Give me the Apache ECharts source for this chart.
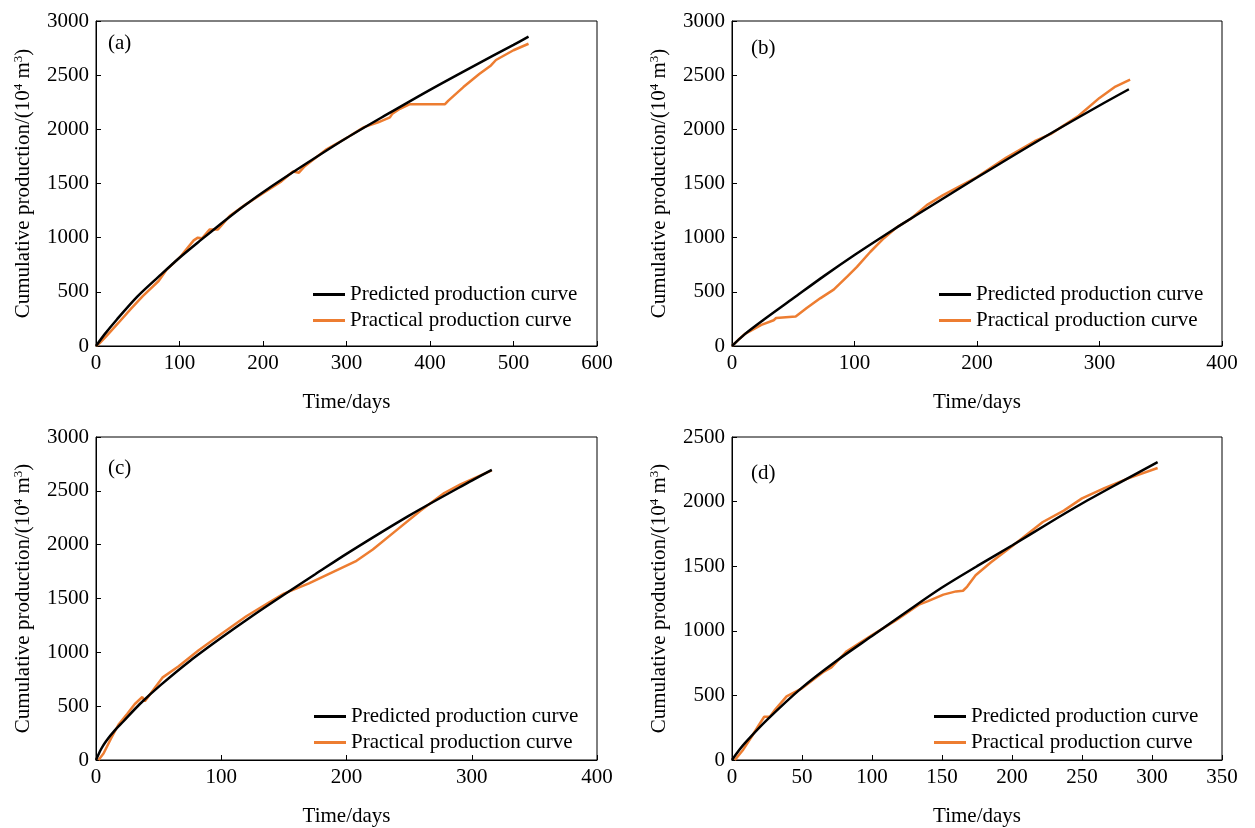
<!DOCTYPE html>
<html>
<head>
<meta charset="utf-8">
<script src="https://cdn.jsdelivr.net/npm/echarts@6/dist/echarts.min.js"></script>
<style>
  html, body { margin: 0; padding: 0; background: #fff; }
  #chart { width: 1255px; height: 828px; }
</style>
</head>
<body>
<div id="chart"></div>
<script>
// (a)
const aPredDays = [0, 10, 25, 50, 75, 100, 125, 150, 175, 200, 250, 300, 350, 400, 450, 500, 518];
const aPredVals = [0, 105, 245, 460, 640, 815, 975, 1130, 1280, 1420, 1675, 1920, 2145, 2365, 2575, 2780, 2855];
const aPracDays = [0, 5, 13, 27, 42, 56, 75, 84, 100, 117, 122, 127, 136, 146, 150, 160, 179, 200, 222, 236, 243, 250, 275, 300, 321, 338, 352, 355, 364, 376, 418, 422, 440, 459, 473, 479, 500, 518];
const aPracVals = [0, 30, 95, 215, 345, 460, 600, 700, 815, 975, 1000, 995, 1075, 1075, 1110, 1200, 1305, 1410, 1520, 1610, 1600, 1660, 1810, 1920, 2020, 2065, 2110, 2145, 2190, 2232, 2232, 2265, 2390, 2510, 2590, 2640, 2730, 2790];
// (b)
const bPredDays = [0, 10, 25, 50, 75, 100, 125, 150, 175, 200, 250, 300, 324];
const bPredVals = [0, 105, 235, 440, 645, 840, 1025, 1205, 1380, 1555, 1895, 2220, 2370];
const bPracDays = [0, 5, 11, 24, 34, 36, 37, 52, 61, 72, 83, 94, 102, 113, 124, 135, 146, 159, 172, 185, 200, 224, 247, 260, 270, 283, 300, 313, 325];
const bPracVals = [0, 55, 115, 195, 238, 258, 272, 272, 350, 440, 520, 640, 730, 870, 995, 1100, 1175, 1300, 1390, 1470, 1560, 1740, 1890, 1955, 2030, 2125, 2290, 2395, 2458];
// (c)
const cPredDays = [0, 4, 8, 15, 22, 35, 52, 75, 100, 125, 150, 175, 200, 250, 300, 316];
const cPredVals = [0, 100, 175, 275, 360, 520, 700, 920, 1135, 1340, 1535, 1725, 1915, 2270, 2595, 2695];
const cPracDays = [2, 6, 12, 18, 25, 31, 37, 39, 53, 66, 82, 100, 120, 139, 150, 170, 189, 208, 221, 240, 259, 278, 291, 316];
const cPracVals = [0, 60, 200, 330, 430, 520, 585, 545, 765, 870, 1020, 1170, 1335, 1470, 1545, 1640, 1745, 1850, 1955, 2135, 2315, 2480, 2560, 2690];
// (d)
const dPredDays = [0, 5, 10, 25, 50, 75, 100, 125, 150, 175, 200, 225, 250, 275, 304];
const dPredVals = [0, 75, 140, 310, 560, 770, 960, 1150, 1335, 1500, 1660, 1825, 1985, 2135, 2305];
const dPracDays = [2, 8, 14, 19, 23, 27, 31, 39, 50, 65, 71, 82, 100, 117, 134, 140, 151, 160, 165, 168, 174, 185, 200, 222, 237, 250, 266, 283, 304];
const dPracVals = [0, 80, 180, 267, 335, 335, 392, 492, 555, 680, 717, 842, 967, 1080, 1205, 1230, 1280, 1305, 1310, 1342, 1430, 1530, 1655, 1842, 1930, 2025, 2105, 2180, 2260];

const xMax = [600, 400, 400, 350];
const xStep = [100, 100, 100, 50];
const yMax = [3000, 3000, 3000, 2500];
const panelTags = ['(a)', '(b)', '(c)', '(d)'];

const FONT = 'Liberation Serif';
const FS = 21;
const PRED = 'Predicted production curve';
const PRAC = 'Practical production curve';

const pairs = (xs, ys) => xs.map((x, i) => [x, ys[i]]);
const predData = [pairs(aPredDays, aPredVals), pairs(bPredDays, bPredVals), pairs(cPredDays, cPredVals), pairs(dPredDays, dPredVals)];
const pracData = [pairs(aPracDays, aPracVals), pairs(bPracDays, bPracVals), pairs(cPracDays, cPracVals), pairs(dPracDays, dPracVals)];

// grid boxes in px
const boxes = [
  { left: 96, top: 21, width: 501, height: 325 },
  { left: 732, top: 21, width: 490, height: 325 },
  { left: 96, top: 437, width: 501, height: 333 },
  { left: 732, top: 437, width: 490, height: 333 }
];
const legendPos = [
  { left: 308, top: 279 },
  { left: 934, top: 279 },
  { left: 309, top: 701 },
  { left: 929, top: 701 }
];
const tagPos = [
  { left: 108, top: 33 },
  { left: 751, top: 38 },
  { left: 108, top: 458 },
  { left: 751, top: 463 }
];

const plain = v => String(v);

const grid = [], xAxis = [], yAxis = [], series = [], legend = [], title = [];
for (let i = 0; i < 4; i++) {
  grid.push(Object.assign({ show: true, borderColor: '#000', borderWidth: 1, backgroundColor: 'transparent' }, boxes[i]));
  xAxis.push({
    type: 'value', gridIndex: i, min: 0, max: xMax[i], interval: xStep[i],
    name: 'Time/days', nameLocation: 'middle', nameGap: 46,
    nameTextStyle: { fontFamily: FONT, fontSize: FS, color: '#000' },
    axisLine: { show: true, lineStyle: { color: '#000', width: 1 } },
    axisTick: { show: true, inside: true, length: 5, lineStyle: { color: '#000' } },
    axisLabel: { fontFamily: FONT, fontSize: FS, color: '#000', margin: 7, formatter: plain },
    splitLine: { show: false }
  });
  yAxis.push({
    type: 'value', gridIndex: i, min: 0, max: yMax[i], interval: 500,
    name: 'Cumulative production/(10{sup|4} m{sup|3})', nameLocation: 'middle', nameGap: 62,
    nameTextStyle: {
      fontFamily: FONT, fontSize: FS, color: '#000',
      rich: { sup: { fontFamily: FONT, fontSize: 13, color: '#000', verticalAlign: 'top', lineHeight: 22 } }
    },
    axisLine: { show: true, lineStyle: { color: '#000', width: 1 } },
    axisTick: { show: true, inside: true, length: 5, lineStyle: { color: '#000' } },
    axisLabel: { fontFamily: FONT, fontSize: FS, color: '#000', margin: 7, formatter: plain },
    splitLine: { show: false }
  });
  series.push({
    name: PRAC, type: 'line', xAxisIndex: i, yAxisIndex: i, data: pracData[i],
    showSymbol: false, symbol: 'none', color: '#ED7D31', lineStyle: { width: 2.5, color: '#ED7D31' }, z: 2
  });
  series.push({
    name: PRED, type: 'line', xAxisIndex: i, yAxisIndex: i, data: predData[i],
    smooth: 0.3,
    showSymbol: false, symbol: 'none', color: '#000', lineStyle: { width: 2.5, color: '#000' }, z: 3
  });
  legend.push(Object.assign({
    data: [PRED, PRAC], orient: 'vertical', icon: 'rect', itemWidth: 32, itemHeight: 3, itemGap: 5,
    textStyle: { fontFamily: FONT, fontSize: FS, color: '#000' }, selectedMode: false
  }, legendPos[i]));
  title.push(Object.assign({
    text: panelTags[i], textStyle: { fontFamily: FONT, fontSize: FS, fontWeight: 'normal', color: '#000' }, padding: 0
  }, tagPos[i]));
}

const chart = echarts.init(document.getElementById('chart'));
chart.setOption({ animation: false, backgroundColor: '#fff', title, grid, xAxis, yAxis, legend, series });
</script>
</body>
</html>
